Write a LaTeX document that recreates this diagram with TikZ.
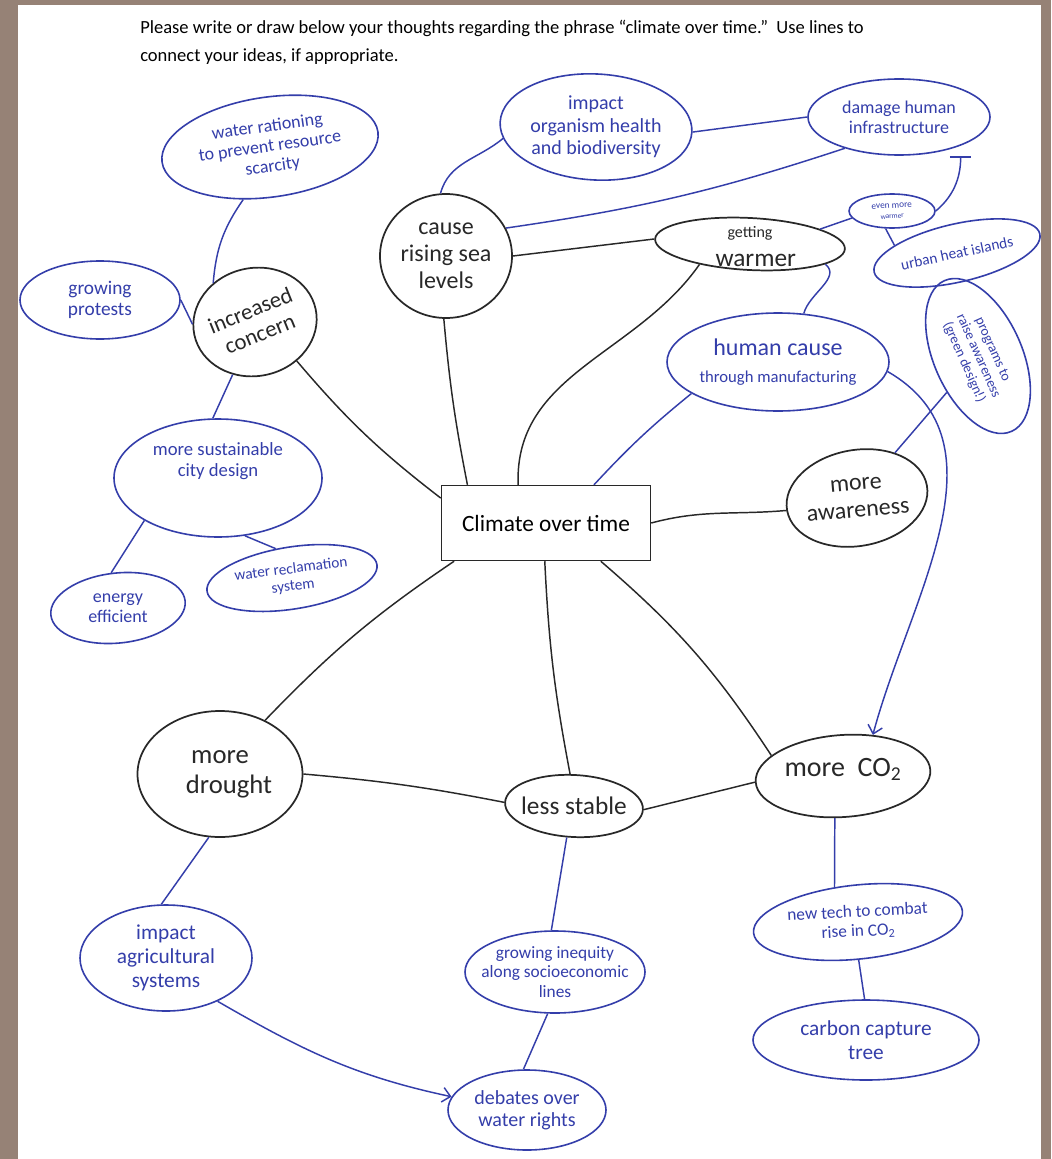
\documentclass[tikz,border=0pt]{standalone}
\usepackage{fontspec}
\setmainfont{Carlito}
\usetikzlibrary{shapes.geometric,arrows.meta}
\definecolor{ink}{RGB}{52,62,170}
\definecolor{pen}{RGB}{40,40,40}
\definecolor{desk}{RGB}{150,130,118}
\newcommand\fsz[1]{\pgfmathsetlengthmacro\mybls{#1*1.12}\fontsize{#1}{\mybls}\selectfont}
\tikzset{
  bk/.style={draw=pen, line width=1.3pt, ellipse, inner sep=0pt},
  bl/.style={draw=ink, line width=1.2pt, ellipse, inner sep=0pt},
  sz/.style 2 args={minimum width={#1*0.75pt}, minimum height={#2*0.75pt}},
  tb/.style={font=\fsz{#1}, text=ink, align=center, inner sep=0pt},
  tb/.default=11,
  tk/.style={font=\fsz{#1}, text=pen, align=center, inner sep=0pt},
  tk/.default=14,
  ck/.style={draw=pen, line width=1.1pt},
  cb/.style={draw=ink, line width=1.1pt},
  barb/.style={-{Straight Barb[length=6pt,width=11pt,line width=1.1pt]}},
  hdr/.style={anchor=west, font=\fsz{13.9}, text=black, inner sep=0pt}
}
\begin{document}
\begin{tikzpicture}[x=0.75pt,y=-0.75pt]
\fill[desk] (0,0) rectangle (1051,1159);
\fill[white] (18,5) rectangle (1041,1159);
\useasboundingbox (0,0) rectangle (1051,1159);

% header
\node[hdr] (hd1) at (140,28) {Please write or draw below your thoughts regarding the phrase “climate over time.”\ \ Use lines to};
\node[hdr] (hd2) at (140,57) {connect your ideas, if appropriate.};

% centre
\node[draw=pen, line width=1.1pt, minimum width={209*0.75pt}, minimum height={75*0.75pt}, font=\fsz{17.5}, text=black] (box) at (546,523) {Climate over time};

% black ellipses
\node[bk, sz={124}{108}, rotate=12, label={[tk=17, rotate=22]center:{increased\\concern}}] (conc) at (255,322) {};
\node[bk, sz={132}{124}, label={[tk=18]center:{cause\\rising sea\\levels}}] (cause) at (446,256) {};
\node[bk, sz={190}{52}, rotate=-3, label={[tk=19, yshift=-2pt]center:{{\fsz{12}getting}\\\ \ warmer}}] (warm) at (750,244) {};
\node[bk, sz={142}{96}, rotate=10, label={[tk=18, rotate=5]center:{more\\awareness}}] (aware) at (857,498) {};
\node[bk, sz={165}{126}, label={[tk=20]center:{more\\\ \ \ drought}}] (drought) at (220,774) {};
\node[bk, sz={138}{62}, rotate=-3, label={[tk=19]center:{less stable}}] (stable) at (574,806) {};
\node[bk, sz={175}{82}, rotate=4, label={[tk=21, yshift=5pt]center:{more\ \ CO\textsubscript{2}}}] (co2) at (843,776) {};

% blue ellipses
\node[bl, sz={218}{100}, rotate=8, label={[tb=13.5, rotate=8]center:{water rationing\\to prevent resource\\scarcity}}] (water) at (270,147) {};
\node[bl, sz={160}{78}, label={[tb=14.5]center:{growing\\protests}}] (prot) at (100,300) {};
\node[bl, sz={208}{118}, label={[tb=14, yshift=13pt]center:{more sustainable\\city design}}] (sust) at (218,478) {};
\node[bl, sz={135}{70}, rotate=6, label={[tb=13.5]center:{energy\\efficient}}] (energy) at (118,608) {};
\node[bl, sz={172}{62}, rotate=9, label={[tb=11.5, rotate=7]center:{water reclamation\\system}}] (recl) at (292,578) {};
\node[bl, sz={192}{106}, rotate=-3, label={[tb=15]center:{impact\\organism health\\and biodiversity}}] (impact) at (596,127) {};
\node[bl, sz={182}{76}, label={[tb=13.5]center:{damage human\\infrastructure}}] (damage) at (899,117) {};
\node[bl, sz={86}{34}, label={[tb=7, rotate=3]center:{even more\\{\fsz{5.5}warmer}}}] (even) at (892,211) {};
\node[bl, sz={170}{58}, rotate=13, label={[tb=11.5, rotate=12]center:{urban heat islands}}] (urban) at (957,253) {};
\node[bl, sz={165}{88}, rotate=-66, label={[tb=10.5, rotate=-66]center:{programs to\\raise awareness\\(green design!)}}] (prog) at (978,356) {};
\node[bl, sz={222}{98}, label={[tb=18]center:{human cause\\{\fsz{12.5}through manufacturing}}}] (human) at (778,362) {};
\node[bl, sz={172}{106}, label={[tb=16]center:{impact\\agricultural\\systems}}] (agri) at (166,958) {};
\node[bl, sz={180}{82}, label={[tb=13]center:{growing inequity\\along socioeconomic\\lines}}] (ineq) at (555,972) {};
\node[bl, sz={158}{80}, label={[tb=15]center:{debates over\\water rights}}] (debate) at (527,1110) {};
\node[bl, sz={210}{74}, rotate=6, label={[tb=13, rotate=3]center:{new tech to combat\\rise in CO\textsubscript{2}}}] (tech) at (858,922) {};
\node[bl, sz={226}{80}, label={[tb=16]center:{carbon capture\\tree}}] (carbon) at (866,1040) {};

% black connectors
\draw[ck] ([yshift=-10pt]box.north west) to[bend left=6] (conc.-55);
\draw[ck] ([xshift=20pt]box.north west) to[bend left=3] (cause.-92);
\draw[ck] ([xshift=58pt]box.north west) to[out=92,in=-125] (warm.-155);
\draw[ck] (box.east) to[out=15,in=185] (aware.west);
\draw[ck] ([xshift=10pt]box.south west) to[bend right=6] (drought.50);
\draw[ck] ([xshift=78pt]box.south west) to[bend right=4] (stable.100);
\draw[ck] ([xshift=120pt]box.south west) to[bend left=8] (co2.160);
\draw[ck] (cause.east) -- (warm.west);
\draw[ck] (drought.east) to[bend left=3] (stable.west);
\draw[ck] (stable.east) -- (co2.west);

% blue connectors
\draw[cb] (conc.125) to[bend left=15] (water.-125);
\draw[cb] (conc.170) -- (prot.east);
\draw[cb] (conc.-125) -- (sust.95);
\draw[cb] (sust.-150) -- (energy.95);
\draw[cb] (sust.-65) -- (recl.110);
\draw[cb] (cause.95) to[out=75,in=-140] (impact.-170);
\draw[cb] (cause.25) to[bend right=5] (damage.-150);
\draw[cb] (impact.east) -- (damage.west);
\draw[cb, -{Bar[width=16pt,line width=1.1pt]}, shorten >=8pt] (even.east) to[out=40,in=-90] (damage.-25);
\draw[cb] (warm.15) -- (even.190);
\draw[cb] (even.-110) -- (urban.160);
\draw[cb] (warm.-12) to[out=-40,in=75] (human.62);
\draw[cb] (aware.40) -- (prog);
\draw[cb] (human.-160) to[bend right=4] ([xshift=36pt]box.north);
\draw[cb, barb] (human.-5) to[out=-30,in=75] (co2.50);
\draw[cb] (drought.-100) -- (agri.95);
\draw[cb] (stable.-100) -- (ineq.95);
\draw[cb, barb] (agri.-40) to[out=-30,in=168] (debate.170);
\draw[cb] (ineq.-100) -- (debate.95);
\draw[cb] (co2.-105) -- (tech.118);
\draw[cb] (tech.-95) -- (carbon.92);
\end{tikzpicture}
\end{document}
